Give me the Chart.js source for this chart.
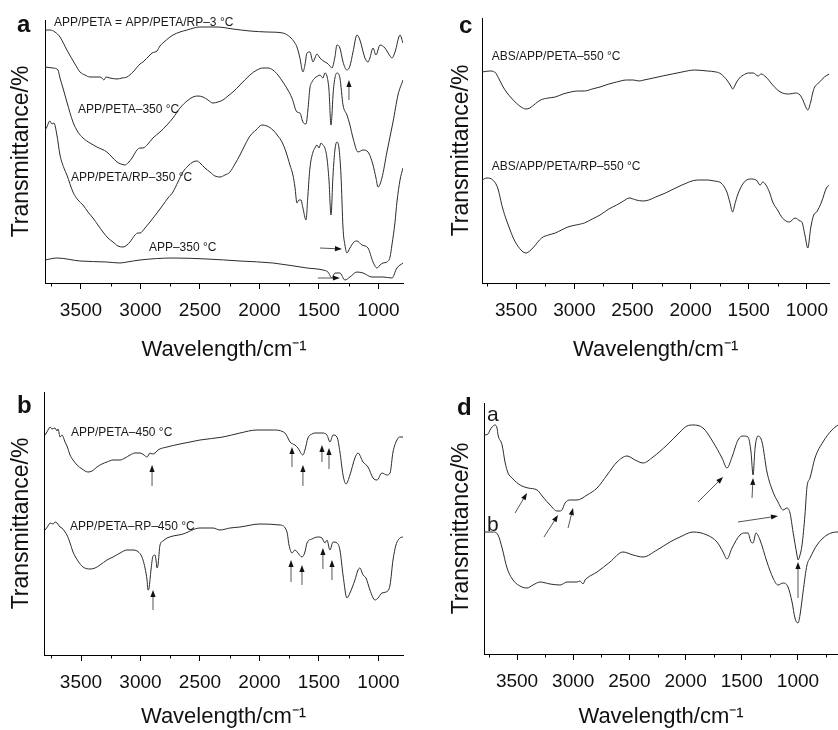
<!DOCTYPE html>
<html><head><meta charset="utf-8">
<script src="https://cdn.jsdelivr.net/npm/chart.js@4.4.1/dist/chart.umd.min.js"></script>
<style>
html,body{margin:0;padding:0;background:#fff}
body{width:838px;height:730px;overflow:hidden;position:relative;font-family:"Liberation Sans",Arial,sans-serif}
canvas{position:absolute;display:block}
.let{position:absolute;font-weight:bold;font-size:24px;line-height:24px;color:#111}
</style></head><body>
<canvas id="ca" width="420" height="380" style="left:0;top:0"></canvas>
<canvas id="cc" width="418" height="380" style="left:420px;top:0"></canvas>
<canvas id="cb" width="420" height="350" style="left:0;top:380px"></canvas>
<canvas id="cd" width="418" height="350" style="left:420px;top:380px"></canvas>
<div class="let" style="left:17px;top:12px">a</div>
<div class="let" style="left:459px;top:13px">c</div>
<div class="let" style="left:17px;top:393px">b</div>
<div class="let" style="left:457px;top:395px">d</div>
<script>
// ---- x-axis tick values (cm-1) ----
const tickValues = [3750,3500,3250,3000,2750,2500,2250,2000,1750,1500,1250,1000,750];

// ---- panel a ----
const wnA1 = [3802,3760,3718,3676,3618,3550,3508,3466,3424,3382,3340,3324,3307,3290,3256,3197,3155,3113,3063,3004,2979,2920,2903,2878,2861,2836,2811,2752,2727,2668,2609,2500,2357,2223,2080,1937,1803,1744,1702,1685,1660,1635,1618,1601,1576,1550,1534,1517,1492,1450,1433,1408,1391,1366,1349,1324,1298,1265,1240,1214,1181,1156,1114,1088,1072,1046,1021,987,946,903,887,861,819,794];
const tA1 = [253,253,251,246,233,219,211,208,206,206,206,205,203,206,205,204,205,206,211,219,221,228,230,231,232,237,240,246,248,251,253,256,256,254,252,251,250,246,240,236,225,211,218,230,231,221,225,229,225,221,220,217,215,226,238,235,221,213,217,231,248,243,225,221,225,235,228,238,235,227,225,231,248,240];
const wnA2 = [3802,3735,3693,3676,3651,3618,3567,3525,3483,3424,3366,3282,3240,3197,3164,3130,3105,3071,3029,3004,2979,2937,2895,2836,2777,2727,2668,2609,2559,2517,2475,2433,2391,2349,2307,2265,2223,2164,2080,2021,1971,1929,1887,1845,1803,1761,1727,1685,1660,1635,1609,1593,1576,1559,1534,1509,1492,1467,1450,1433,1416,1399,1391,1382,1366,1349,1324,1298,1265,1240,1214,1172,1130,1088,1046,1021,1004,971,929,878,836,794];
const tA2 = [216,215,213,205,195,181,161,151,145,140,136,131,126,121,119,118,120,125,133,135,135,139,145,151,158,165,175,182,186,187,186,183,180,181,183,187,191,198,208,213,215,215,213,208,201,193,185,171,170,161,159,173,195,201,205,207,208,205,210,207,193,158,168,188,205,210,205,178,168,158,145,131,133,131,118,105,96,105,131,161,188,203];
const wnA3 = [3802,3786,3769,3760,3744,3727,3702,3676,3643,3618,3567,3525,3483,3441,3399,3357,3315,3273,3231,3189,3147,3113,3088,3046,3021,3004,2962,2920,2861,2811,2769,2727,2685,2643,2601,2559,2525,2500,2458,2416,2374,2332,2290,2248,2206,2164,2122,2080,2029,1979,1937,1887,1845,1811,1777,1744,1719,1702,1685,1668,1651,1635,1609,1593,1576,1550,1534,1517,1500,1483,1467,1450,1433,1416,1399,1382,1366,1349,1332,1315,1298,1282,1265,1240,1206,1181,1139,1088,1046,1012,987,962,929,903,887,861,845,819,794];
const tA3 = [153,156,161,162,159,160,148,128,115,108,91,83,78,71,65,58,51,45,41,37,36,38,41,48,50,50,55,61,70,78,85,91,101,111,117,121,122,120,115,111,107,106,108,111,119,128,138,147,153,158,157,153,147,141,131,118,108,96,80,83,83,75,63,88,115,131,135,138,135,140,138,135,125,103,68,108,133,141,135,108,55,38,30,35,41,42,38,35,21,15,18,20,21,26,38,61,81,103,115];
const wnA4 = [3802,3702,3508,3282,3172,3113,3004,2727,2441,2164,1887,1601,1467,1425,1391,1366,1324,1282,1240,1181,1130,1055,962,887,845,794];
const tA4 = [23,25,22,21,20,21,23,25,24,22,20,15,13,11,5,10,10,3,6,11,10,6,6,5,15,20];

// ---- panel b ----
const wnB1 = [3802,3777,3760,3744,3718,3702,3693,3676,3660,3634,3618,3592,3567,3533,3491,3441,3407,3366,3324,3282,3231,3172,3130,3088,3046,3004,2971,2945,2920,2903,2878,2861,2853,2777,2668,2584,2500,2307,2164,2021,1887,1786,1761,1744,1702,1677,1635,1618,1593,1559,1534,1475,1433,1408,1382,1349,1324,1298,1273,1240,1198,1172,1130,1088,1046,1012,971,929,903,878,845,819,794];
const tB1 = [220,225,228,226,227,224,226,218,220,213,209,200,195,190,186,183,184,188,191,193,195,195,197,200,202,202,200,198,202,201,202,204,205,208,211,213,215,218,222,225,225,222,217,213,210,207,200,205,217,221,222,222,220,213,220,218,203,180,171,180,197,202,193,188,177,175,182,180,182,203,215,218,218];
const wnB2 = [3802,3777,3760,3735,3718,3702,3676,3660,3634,3618,3592,3567,3525,3483,3424,3382,3340,3282,3231,3172,3113,3063,3029,2996,2979,2962,2945,2937,2928,2912,2895,2878,2870,2861,2853,2836,2811,2777,2643,2500,2391,2332,2248,2164,1996,1828,1769,1752,1727,1702,1677,1643,1618,1601,1559,1509,1475,1450,1433,1408,1382,1349,1324,1298,1265,1240,1198,1172,1156,1130,1105,1072,1029,1004,971,937,903,878,853,819,794];
const tB2 = [125,129,132,131,133,132,128,127,123,120,112,103,94,88,86,87,90,95,98,102,105,105,104,100,95,87,75,65,67,85,99,100,95,87,90,110,114,117,121,127,127,125,127,128,131,130,123,110,102,105,102,98,103,112,116,118,117,112,115,105,113,112,105,80,57,62,75,85,87,80,77,65,55,57,62,63,70,95,110,117,118];

// ---- panel c ----
const wnC1 = [3794,3727,3685,3643,3617,3584,3542,3500,3458,3416,3383,3349,3290,3223,3164,3097,3030,2971,2913,2846,2779,2703,2636,2552,2493,2443,2401,2359,2242,2158,2074,1965,1856,1780,1738,1688,1654,1638,1621,1604,1571,1545,1503,1461,1419,1394,1352,1294,1252,1210,1151,1101,1059,1034,1017,992,967,950,933,908,891,849,807];
const tC1 = [211,212,211,203,197,191,185,180,176,174,175,178,183,185,186,189,191,192,192,194,196,199,201,203,203,202,203,204,207,209,211,213,212,211,209,203,197,194,197,201,206,208,210,210,207,209,206,198,193,190,189,190,188,183,178,173,181,190,196,199,201,206,209];
const wnC2 = [3794,3752,3701,3659,3617,3584,3559,3525,3492,3450,3416,3383,3349,3282,3223,3164,3055,2946,2913,2846,2779,2703,2636,2577,2527,2468,2409,2359,2300,2216,2074,1940,1856,1797,1738,1688,1663,1638,1621,1596,1545,1487,1436,1402,1378,1352,1319,1294,1252,1210,1151,1101,1059,1043,1017,992,967,941,916,874,832,807];
const tC2 = [103,105,103,95,75,63,55,45,38,32,30,32,36,45,48,50,56,59,60,64,68,74,78,82,85,83,82,83,86,90,98,103,103,102,100,91,81,71,78,88,100,104,103,98,101,98,90,81,73,65,61,65,62,61,48,35,55,68,71,81,95,98];

// ---- panel d ----
const wnD1 = [3794,3758,3740,3722,3696,3678,3669,3633,3607,3580,3544,3473,3402,3322,3269,3206,3144,3117,3100,3073,3028,2966,2877,2788,2699,2610,2521,2450,2379,2290,2166,2050,1988,1934,1845,1756,1676,1632,1587,1534,1489,1445,1418,1400,1382,1356,1320,1276,1222,1178,1133,1098,1071,1044,1009,1000,982,964,938,920,893,849,778,698,644];
const tD1 = [219,220,224,227,229,226,219,209,192,181,176,169,166,164,157,149,143,143,144,151,154,154,159,166,179,192,198,194,191,197,209,222,228,229,226,212,196,186,197,214,218,217,202,179,206,218,212,182,162,152,144,146,141,122,99,94,99,109,139,167,176,196,212,224,229];
const wnD2 = [3794,3713,3669,3633,3589,3536,3456,3411,3358,3295,3206,3117,3055,2966,2940,2922,2913,2895,2877,2788,2673,2557,2468,2379,2254,2139,2050,1934,1810,1721,1667,1632,1587,1516,1472,1445,1418,1400,1374,1338,1276,1222,1178,1133,1089,1053,1027,1000,982,955,920,893,831,742,653,644];
const tD2 = [122,122,119,106,86,74,67,66,69,72,70,69,72,72,73,71,70,74,76,82,92,102,99,97,104,112,117,122,119,112,102,95,106,119,121,121,112,111,121,114,92,76,69,71,67,52,36,31,39,62,89,96,109,119,122,122];

// ---- annotation texts ----
const labelsA = [
  {text:'APP/PETA = APP/PETA/RP\u20133 \u00B0C', w:3727, t:260},
  {text:'APP/PETA\u2013350 \u00B0C', w:3525, t:173},
  {text:'APP/PETA/RP\u2013350 \u00B0C', w:3584, t:105},
  {text:'APP\u2013350 \u00B0C', w:2929, t:35}
];
const labelsB = [
  {text:'APP/PETA\u2013450 \u00B0C', w:3584, t:222},
  {text:'APP/PETA\u2013RP\u2013450 \u00B0C', w:3592, t:128}
];
const labelsC = [
  {text:'ABS/APP/PETA\u2013550 \u00B0C', w:3710, t:226},
  {text:'ABS/APP/PETA/RP\u2013550 \u00B0C', w:3710, t:116}
];
const labelsD = [
  {text:'a', w:3767, t:239, size:21},
  {text:'b', w:3767, t:129, size:21}
];
// arrows: [tail wn, tail T, tip wn, tip T]
const arrowsA = [[1248,183,1248,203],[1492,35,1307,34],[1509,5,1324,5]];
const arrowsB = [[2903,169,2903,190],[1727,188,1727,208],[1635,169,1635,190],[1475,193,1475,210],[1416,186,1416,207],
                 [2895,45,2895,65],[1735,73,1735,95],[1643,70,1643,90],[1467,86,1467,107],[1391,75,1391,95]];
const arrowsD = [[3518,141,3411,161],[3260,117,3135,139],[3046,126,3002,146],[1890,152,1667,177],[1409,156,1400,176],[1534,132,1178,138],[1000,56,1000,92]];

const FONT = '"Liberation Sans", Arial, sans-serif';
Chart.defaults.font.family = FONT;
const isMajor = v => v % 500 === 0;

const annoPlugin = {
  id: 'anno',
  afterDraw(chart) {
    // short minor tick marks
    const {ctx, scales: {x}} = chart;
    ctx.save();
    ctx.strokeStyle = '#000'; ctx.lineWidth = 1;
    x.ticks.forEach(t => {
      if (isMajor(t.value)) return;
      const px = Math.round(x.getPixelForValue(t.value)) + 0.5;
      ctx.beginPath(); ctx.moveTo(px, x.top); ctx.lineTo(px, x.top + 3.5); ctx.stroke();
    });
    ctx.restore();
  },
  afterDatasetsDraw(chart, args, opts) {
    const {ctx, scales: {x, y}} = chart;
    ctx.save();
    (opts.arrows || []).forEach(a => {
      const x1 = x.getPixelForValue(a[0]), y1 = y.getPixelForValue(a[1]);
      const x2 = x.getPixelForValue(a[2]), y2 = y.getPixelForValue(a[3]);
      const ang = Math.atan2(y2 - y1, x2 - x1), L = 7, W = 2.6;
      const bx = x2 - L * Math.cos(ang), by = y2 - L * Math.sin(ang);
      ctx.strokeStyle = '#555'; ctx.lineWidth = 1;
      ctx.beginPath(); ctx.moveTo(x1, y1); ctx.lineTo(bx, by); ctx.stroke();
      ctx.fillStyle = '#111';
      ctx.beginPath();
      ctx.moveTo(x2, y2);
      ctx.lineTo(bx + W * Math.sin(ang), by - W * Math.cos(ang));
      ctx.lineTo(bx - W * Math.sin(ang), by + W * Math.cos(ang));
      ctx.closePath(); ctx.fill();
    });
    (opts.labels || []).forEach(l => {
      ctx.font = (l.size || 12) + 'px ' + FONT;
      ctx.fillStyle = '#1a1a1a';
      ctx.textAlign = 'left'; ctx.textBaseline = 'middle';
      ctx.fillText(l.text, x.getPixelForValue(l.w), y.getPixelForValue(l.t));
    });
    ctx.restore();
  }
};

function series(wn, t) { return wn.map((w, i) => ({x: w, y: t[i]})); }

function makeChart(id, cfg) {
  return new Chart(document.getElementById(id), {
    type: 'line',
    data: {
      datasets: cfg.series.map(s => ({
        data: series(s[0], s[1]), borderColor: '#2b2b2b', borderWidth: 1,
        pointRadius: 0, cubicInterpolationMode: 'monotone', fill: false
      }))
    },
    options: {
      responsive: false, animation: false, events: [],
      layout: {padding: {left: 0, right: cfg.padRight, top: cfg.padTop, bottom: 0}},
      plugins: {legend: {display: false}, tooltip: {enabled: false}, anno: {labels: cfg.labels, arrows: cfg.arrows}},
      scales: {
        x: {
          type: 'linear', reverse: true, min: cfg.xmin, max: cfg.xmax,
          afterBuildTicks: s => { s.ticks = tickValues.filter(v => v >= cfg.xmin && v <= cfg.xmax).map(v => ({value: v})); },
          afterFit: s => { s.height = cfg.xh; },
          ticks: {autoSkip: false, maxRotation: 0, minRotation: 0, color: '#111', font: {size: 19}, padding: 10,
                  callback: v => (isMajor(v) ? String(v) : '')},
          grid: {drawOnChartArea: false, drawTicks: true, tickLength: 6, tickWidth: 1,
                 tickColor: c => (c.tick && isMajor(c.tick.value) ? '#000' : 'rgba(0,0,0,0)')},
          border: {display: true, color: '#000', width: 1},
          title: {display: true, text: 'Wavelength/cm\u207B\u00B9', color: '#111', font: {size: 22},
                  padding: {top: 0, bottom: cfg.titlePadB}}
        },
        y: {
          min: 0, max: cfg.ymax,
          afterFit: s => { s.width = cfg.yw; },
          ticks: {display: false}, grid: {display: false},
          border: {display: true, color: '#000', width: 1},
          title: {display: true, text: 'Transmittance/%', color: '#111', font: {size: 23},
                  padding: {top: cfg.yTitlePad, bottom: 0}}
        }
      }
    },
    plugins: [annoPlugin]
  });
}

makeChart('ca', {series: [[wnA1, tA1], [wnA2, tA2], [wnA3, tA3], [wnA4, tA4]], labels: labelsA, arrows: arrowsA,
  xmin: 794, xmax: 3802, ymax: 263, yw: 45, padTop: 20, padRight: 17, xh: 97, titlePadB: 17, yTitlePad: 8});
makeChart('cb', {series: [[wnB1, tB1], [wnB2, tB2]], labels: labelsB, arrows: arrowsB,
  xmin: 794, xmax: 3811, ymax: 263, yw: 44, padTop: 12, padRight: 17, xh: 75, titlePadB: 0, yTitlePad: 8});
makeChart('cc', {series: [[wnC1, tC1], [wnC2, tC2]], labels: labelsC, arrows: [],
  xmin: 807, xmax: 3794, ymax: 265, yw: 62, padTop: 18, padRight: 0, xh: 97, titlePadB: 17, yTitlePad: 28});
makeChart('cd', {series: [[wnD1, tD1], [wnD2, tD2]], labels: labelsD, arrows: arrowsD,
  xmin: 644, xmax: 3794, ymax: 251, yw: 64, padTop: 23, padRight: 0, xh: 76, titlePadB: 0, yTitlePad: 28});
</script>
</body></html>
